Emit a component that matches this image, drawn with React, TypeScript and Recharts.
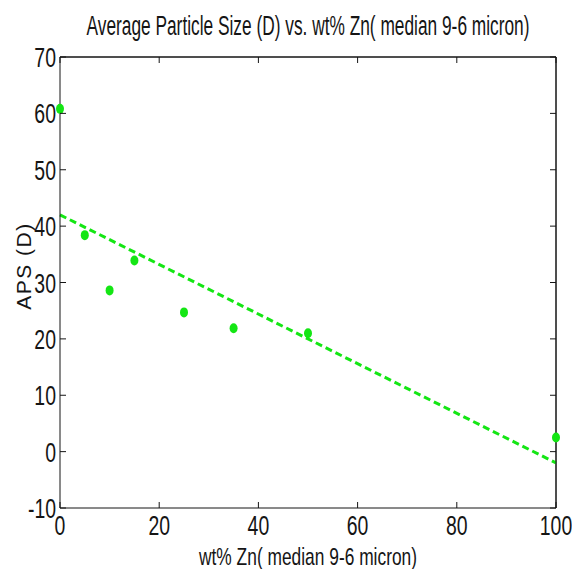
import React from 'react';
import { ComposedChart, Scatter, Line, XAxis, YAxis, Label, ReferenceLine } from 'recharts';

const zincPct = [0, 5, 10, 15, 25, 35, 50, 100];
const apsD = [60.8, 38.4, 28.6, 33.9, 24.7, 21.9, 21, 2.5];
const fitX = [0, 100];
const fitY = [42, -2];
const xTicks = [0, 20, 40, 60, 80, 100];
const yTicks = [-10, 0, 10, 20, 30, 40, 50, 60, 70];

const points = zincPct.map((x, i) => ({ x, aps: apsD[i] }));
const fit = fitX.map((x, i) => ({ x, fit: fitY[i] }));

const font = 'Arial, "Liberation Sans", sans-serif';
const green = '#14e614';
const ink = '#151515';
const squeeze = 0.72;

const Dot = (props: any) => {
  const { cx, cy } = props;
  return <ellipse cx={cx} cy={cy} rx={4} ry={5} fill={green} />;
};

const NoDot = () => <g />;

// narrow text: scale the glyphs horizontally around the anchor
const NarrowText = ({ x, y, sx, width, size, anchor = 'middle', children }: any) => (
  <g transform={`translate(${x},${y}) scale(${sx},1)`}>
    <text
      x={0}
      y={0}
      textAnchor={anchor}
      textLength={width ? width / sx : undefined}
      lengthAdjust="spacingAndGlyphs"
      fontFamily={font}
      fontSize={size}
      fill={ink}
    >
      {children}
    </text>
  </g>
);

// matlab style: tick marks point into the plot
const BottomTick = (props: any) => {
  const { x, y, payload } = props;
  return (
    <g>
      <line x1={x} y1={y} x2={x} y2={y - 6} stroke={ink} />
      <NarrowText x={x} y={y + 27} sx={squeeze} size={27}>
        {payload.value}
      </NarrowText>
    </g>
  );
};

const LeftTick = (props: any) => {
  const { x, y, payload } = props;
  return (
    <g>
      <line x1={x} y1={y} x2={x + 6} y2={y} stroke={ink} />
      <NarrowText x={x - 4} y={y + 10} sx={squeeze} size={27} anchor="end">
        {payload.value}
      </NarrowText>
    </g>
  );
};

const TopTick = (props: any) => {
  const { x, y } = props;
  return <line x1={x} y1={y} x2={x} y2={y + 6} stroke={ink} />;
};

const RightTick = (props: any) => {
  const { x, y } = props;
  return <line x1={x} y1={y} x2={x - 6} y2={y} stroke={ink} />;
};

export default function App() {
  return (
    <div style={{ position: 'absolute', left: 0, top: 0, width: 572, height: 569, background: '#fff' }}>
      <ComposedChart width={572} height={569} margin={{ top: 56, right: 15, left: 0, bottom: 0 }}>
        <NarrowText x={308} y={35} sx={0.62} width={443} size={27}>
          Average Particle Size (D) vs. wt% Zn( median 9-6 micron)
        </NarrowText>
        <XAxis
          xAxisId="b"
          type="number"
          dataKey="x"
          domain={[0, 100]}
          ticks={xTicks}
          height={61}
          tickSize={0}
          tickMargin={0}
          tickLine={false}
          stroke={ink}
          tick={<BottomTick />}
          interval={0}
        >
          <Label
            content={(p: any) => {
              const vb = p.viewBox;
              return (
                <NarrowText x={vb.x + vb.width / 2} y={565} sx={0.74} width={218} size={24}>
                  wt% Zn( median 9-6 micron)
                </NarrowText>
              );
            }}
          />
        </XAxis>
        <XAxis
          xAxisId="t"
          orientation="top"
          type="number"
          dataKey="x"
          domain={[0, 100]}
          ticks={xTicks}
          height={1}
          tickSize={0}
          tickMargin={0}
          tickLine={false}
          stroke={ink}
          tick={<TopTick />}
          interval={0}
        />
        <YAxis
          yAxisId="l"
          type="number"
          domain={[-10, 70]}
          ticks={yTicks}
          width={60}
          tickSize={0}
          tickMargin={0}
          tickLine={false}
          stroke={ink}
          tick={<LeftTick />}
          interval={0}
        >
          <Label
            content={() => {
              const cx = 23;
              const cy = 266;
              return (
                <text
                  x={cx}
                  y={cy}
                  transform={`rotate(-90 ${cx} ${cy})`}
                  textAnchor="middle"
                  dominantBaseline="central"
                  fontFamily={font}
                  fontSize={21}
                  letterSpacing={1.5}
                  fill={ink}
                >
                  APS (D)
                </text>
              );
            }}
          />
        </YAxis>
        <YAxis
          yAxisId="r"
          orientation="right"
          type="number"
          dataKey="aps"
          domain={[-10, 70]}
          ticks={yTicks}
          width={1}
          tickSize={0}
          tickMargin={0}
          tickLine={false}
          stroke={ink}
          tick={<RightTick />}
          interval={0}
        />
        <ReferenceLine xAxisId="b" yAxisId="l" y={70} stroke={ink} />
        <ReferenceLine xAxisId="b" yAxisId="l" x={100} stroke={ink} />
        <Scatter
          xAxisId="t"
          yAxisId="r"
          data={points}
          dataKey="aps"
          shape={<NoDot />}
          isAnimationActive={false}
        />
        <Line
          xAxisId="b"
          yAxisId="l"
          data={fit}
          dataKey="fit"
          type="linear"
          stroke={green}
          strokeWidth={3}
          strokeDasharray="7 4"
          dot={false}
          isAnimationActive={false}
        />
        <Scatter
          xAxisId="b"
          yAxisId="l"
          data={points}
          dataKey="aps"
          shape={<Dot />}
          isAnimationActive={false}
        />
      </ComposedChart>
    </div>
  );
}
